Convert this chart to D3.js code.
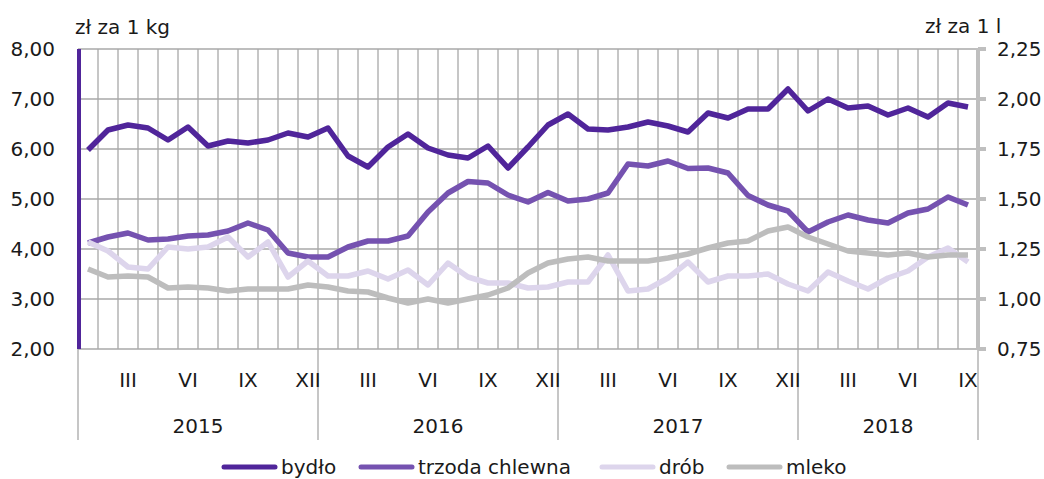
<!DOCTYPE html>
<html><head><meta charset="utf-8">
<script src="https://cdn.jsdelivr.net/npm/d3@7"></script>
<style>body{margin:0;background:#fff}svg{display:block;font-family:"DejaVu Sans",sans-serif}</style>
</head><body><svg id="c" width="1044" height="479"></svg>
<script>
const years = ["2015","2016","2017","2018"];
const monthsInYear = [12,12,12,9];
const romanLabels = ["I","II","III","IV","V","VI","VII","VIII","IX","X","XI","XII"];
const shownRoman = ["III","VI","IX","XII"];
const leftTicks = [2,3,4,5,6,7,8];
const rightTicks = [0.75,1.00,1.25,1.50,1.75,2.00,2.25];
const bydlo = [5.98,6.38,6.48,6.42,6.18,6.44,6.06,6.16,6.12,6.18,6.32,6.24,6.42,5.86,5.64,6.04,6.30,6.02,5.88,5.82,6.06,5.62,6.04,6.48,6.70,6.40,6.38,6.44,6.54,6.46,6.34,6.72,6.62,6.80,6.80,7.20,6.76,7.00,6.82,6.86,6.68,6.82,6.64,6.92,6.84];
const trzoda = [4.12,4.24,4.32,4.18,4.20,4.26,4.28,4.36,4.52,4.38,3.92,3.84,3.84,4.04,4.16,4.16,4.26,4.74,5.12,5.35,5.32,5.08,4.94,5.13,4.96,5.00,5.12,5.70,5.66,5.76,5.61,5.62,5.52,5.07,4.88,4.76,4.34,4.54,4.68,4.58,4.52,4.72,4.80,5.04,4.88];
const drob = [4.14,3.96,3.64,3.60,4.04,4.00,4.04,4.24,3.84,4.14,3.44,3.76,3.46,3.46,3.56,3.40,3.58,3.28,3.72,3.44,3.32,3.32,3.22,3.24,3.34,3.34,3.88,3.16,3.20,3.42,3.74,3.34,3.46,3.46,3.50,3.30,3.16,3.54,3.36,3.20,3.42,3.56,3.84,4.02,3.74];
const mleko = [1.15,1.11,1.115,1.11,1.055,1.06,1.055,1.04,1.05,1.05,1.05,1.07,1.06,1.04,1.035,1.005,0.98,1.0,0.98,1.0,1.02,1.055,1.13,1.18,1.20,1.21,1.19,1.19,1.19,1.205,1.225,1.255,1.28,1.29,1.34,1.36,1.31,1.275,1.24,1.23,1.22,1.23,1.21,1.22,1.22];
const seriesNames = ["bydło","trzoda chlewna","drób","mleko"];
const colors = ["#50259a","#7552b0","#ddd5ec","#bdbdbd"];

const months = [];
years.forEach((y,yi)=>{for(let m=0;m<monthsInYear[yi];m++) months.push({year:y,m:m,i:months.length});});
const N = months.length;

const L=78,R=978,T=49,B=349;
const svg = d3.select("#c");
const x = d3.scaleBand().domain(d3.range(N)).range([L,R]).paddingInner(0).paddingOuter(0);
const bw = x.bandwidth();
const cx = i => x(i)+bw/2;
const yL = d3.scaleLinear().domain([2,8]).range([B,T]);
const yR = d3.scaleLinear().domain([0.75,2.25]).range([B,T]);
const grid="#a8a8a8";
const txt="#1a1a1a";

svg.append("g").selectAll("line").data(leftTicks.filter(t=>t>2)).join("line")
 .attr("x1",L).attr("x2",R).attr("y1",d=>yL(d)).attr("y2",d=>yL(d)).attr("stroke",grid).attr("stroke-width",1.3);
svg.append("g").selectAll("line").data(d3.range(1,N)).join("line")
 .attr("x1",d=>x(d)).attr("x2",d=>x(d)).attr("y1",T).attr("y2",B).attr("stroke",grid).attr("stroke-width",1.3);
svg.append("line").attr("x1",L).attr("x2",R).attr("y1",B).attr("y2",B).attr("stroke",grid).attr("stroke-width",1.3);
let bounds=[0]; monthsInYear.reduce((a,c)=>{bounds.push(a+c);return a+c;},0);
const bx = d => d<N?x(d):R;
svg.append("g").selectAll("line").data(bounds).join("line")
 .attr("x1",bx).attr("x2",bx).attr("y1",B).attr("y2",440).attr("stroke",grid).attr("stroke-width",1.3);

svg.append("g").selectAll("text").data(months.filter(d=>shownRoman.includes(romanLabels[d.m]))).join("text")
 .attr("x",d=>cx(d.i)).attr("y",387).attr("text-anchor","middle").attr("font-size",20).attr("fill",txt)
 .text(d=>romanLabels[d.m]);
svg.append("g").selectAll("text").data(years).join("text")
 .attr("x",(d,i)=>(bx(bounds[i])+bx(bounds[i+1]))/2)
 .attr("y",433).attr("text-anchor","middle").attr("font-size",20).attr("fill",txt).text(d=>d);

svg.append("line").attr("x1",79).attr("x2",79).attr("y1",T).attr("y2",B).attr("stroke",colors[0]).attr("stroke-width",4);
svg.append("g").selectAll("text").data(leftTicks).join("text")
 .attr("x",55).attr("y",d=>yL(d)).attr("dy","0.36em").attr("text-anchor","end").attr("font-size",20).attr("fill",txt)
 .text(d=>d3.format(".2f")(d).replace(".",","));
svg.append("line").attr("x1",978).attr("x2",978).attr("y1",T-1).attr("y2",B+1).attr("stroke","#bfbfbf").attr("stroke-width",4);
svg.append("g").selectAll("line").data(rightTicks).join("line")
 .attr("x1",978).attr("x2",986).attr("y1",d=>yR(d)).attr("y2",d=>yR(d)).attr("stroke","#bfbfbf").attr("stroke-width",4);
svg.append("g").selectAll("text").data(rightTicks).join("text")
 .attr("x",997).attr("y",d=>yR(d)).attr("dy","0.36em").attr("font-size",20).attr("fill",txt)
 .text(d=>d3.format(".2f")(d).replace(".",","));
svg.append("text").attr("x",75).attr("y",34).attr("font-size",20).attr("fill",txt).text("zł za 1 kg");
svg.append("text").attr("x",925).attr("y",33).attr("font-size",20).attr("fill",txt).text("zł za 1 l");

const datasets=[[bydlo,yL],[trzoda,yL],[drob,yL],[mleko,yR]];
datasets.forEach(([vals,ys],k)=>{
  const line=d3.line().x((d,i)=>cx(i)).y(d=>ys(d));
  svg.append("path").datum(vals).attr("d",line).attr("fill","none").attr("stroke",colors[k])
   .attr("stroke-width",5.5).attr("stroke-linejoin","round").attr("stroke-linecap","butt");
});

const legX=[222,359,600,727];
const lg=svg.append("g").selectAll("g").data(seriesNames).join("g").attr("transform",(d,i)=>`translate(${legX[i]},467)`);
lg.append("line").attr("x1",2).attr("x2",53).attr("y1",0).attr("y2",0).attr("stroke",(d,i)=>colors[i]).attr("stroke-width",5).attr("stroke-linecap","round");
lg.append("text").attr("x",59).attr("y",7).attr("font-size",20).attr("fill",txt).text(d=>d);
</script></body></html>
